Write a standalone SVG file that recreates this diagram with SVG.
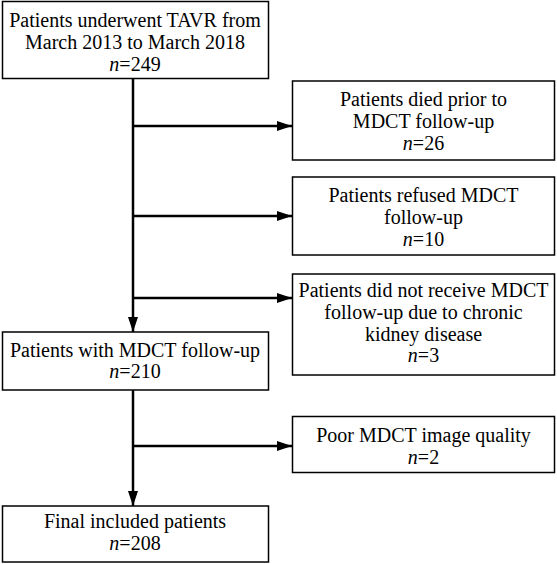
<svg xmlns="http://www.w3.org/2000/svg" width="557" height="564" viewBox="0 0 557 564">
<style>
.box{fill:#fff;stroke:#000;stroke-width:1.5}
text{font-family:'Liberation Serif','DejaVu Serif','Times New Roman',serif;font-size:20px;fill:#000;text-anchor:middle}
.c{stroke:#000;stroke-width:2.5;fill:none}
</style>
<defs>
<marker id="ah" markerWidth="16" markerHeight="12" refX="15" refY="6" orient="auto" markerUnits="userSpaceOnUse">
<path d="M0,1 L15,6 L0,11 Z" fill="#000"/>
</marker>
</defs>
<rect width="557" height="564" fill="#fff"/>
<g id="connectors">
<line class="c" x1="133" y1="79" x2="133" y2="332" marker-end="url(#ah)"/>
<line class="c" x1="133" y1="390" x2="133" y2="506" marker-end="url(#ah)"/>
<line class="c" x1="133" y1="126" x2="292" y2="126" marker-end="url(#ah)"/>
<line class="c" x1="133" y1="216" x2="292" y2="216" marker-end="url(#ah)"/>
<line class="c" x1="133" y1="298" x2="292" y2="298" marker-end="url(#ah)"/>
<line class="c" x1="133" y1="446" x2="292" y2="446" marker-end="url(#ah)"/>
</g>
<g font-family="Liberation Serif, serif">
<g id="n1">
<rect class="box" x="2.5" y="1.5" width="266" height="77"/>
<text x="135" y="27">Patients underwent TAVR from</text>
<text x="135" y="49">March 2013 to March 2018</text>
<text x="135" y="71"><tspan font-style="italic">n</tspan>=249</text>
</g>
<g id="n2">
<rect class="box" x="292.5" y="81" width="262" height="79"/>
<text x="423.5" y="106">Patients died prior to</text>
<text x="423.5" y="128">MDCT follow-up</text>
<text x="423.5" y="150"><tspan font-style="italic">n</tspan>=26</text>
</g>
<g id="n3">
<rect class="box" x="292.5" y="177" width="262" height="78"/>
<text x="423.5" y="202">Patients refused MDCT</text>
<text x="423.5" y="224">follow-up</text>
<text x="423.5" y="246"><tspan font-style="italic">n</tspan>=10</text>
</g>
<g id="n4">
<rect class="box" x="292.5" y="274" width="262" height="101"/>
<text x="423.5" y="297">Patients did not receive MDCT</text>
<text x="423.5" y="319">follow-up due to chronic</text>
<text x="423.5" y="341">kidney disease</text>
<text x="423.5" y="362"><tspan font-style="italic">n</tspan>=3</text>
</g>
<g id="n5">
<rect class="box" x="2.5" y="332" width="266" height="58"/>
<text x="135" y="357">Patients with MDCT follow-up</text>
<text x="135" y="378"><tspan font-style="italic">n</tspan>=210</text>
</g>
<g id="n6">
<rect class="box" x="292.5" y="416.5" width="262" height="56"/>
<text x="423.5" y="442">Poor MDCT image quality</text>
<text x="423.5" y="464"><tspan font-style="italic">n</tspan>=2</text>
</g>
<g id="n7">
<rect class="box" x="2.5" y="506" width="266" height="56"/>
<text x="135" y="528">Final included patients</text>
<text x="135" y="550"><tspan font-style="italic">n</tspan>=208</text>
</g>
</g>
</svg>
